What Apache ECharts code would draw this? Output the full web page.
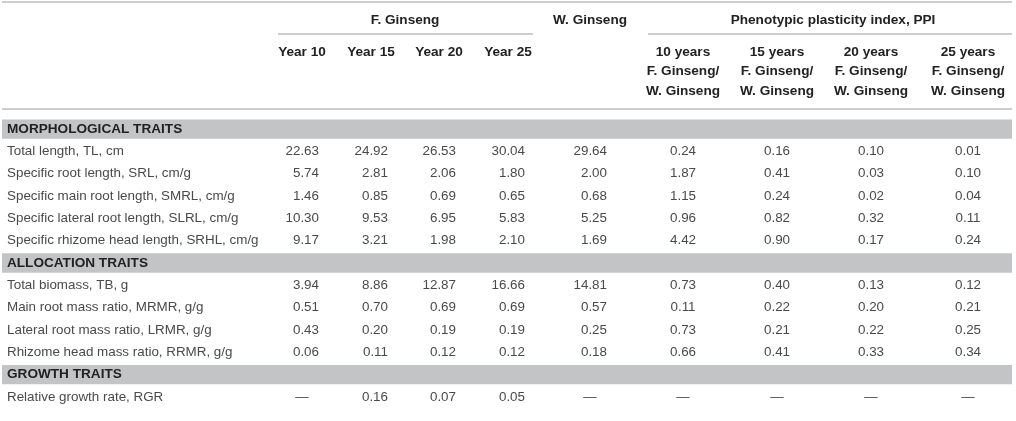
<!DOCTYPE html>
<html>
<head>
<meta charset="utf-8">
<script src="https://cdn.jsdelivr.net/npm/echarts@6/dist/echarts.min.js"></script>
<style>
  html, body { margin: 0; padding: 0; background: #fff; }
  #main { width: 1016px; height: 421px; }
</style>
</head>
<body>
<div id="main"></div>
<script>
// table contents
var sectionNames = ['MORPHOLOGICAL TRAITS', 'ALLOCATION TRAITS', 'GROWTH TRAITS'];
var sectionSizes = [5, 4, 1];
var traits = [
  'Total length, TL, cm',
  'Specific root length, SRL, cm/g',
  'Specific main root length, SMRL, cm/g',
  'Specific lateral root length, SLRL, cm/g',
  'Specific rhizome head length, SRHL, cm/g',
  'Total biomass, TB, g',
  'Main root mass ratio, MRMR, g/g',
  'Lateral root mass ratio, LRMR, g/g',
  'Rhizome head mass ratio, RRMR, g/g',
  'Relative growth rate, RGR'
];
var fYear10 = [22.63, 5.74, 1.46, 10.30, 9.17, 3.94, 0.51, 0.43, 0.06, null];
var fYear15 = [24.92, 2.81, 0.85, 9.53, 3.21, 8.86, 0.70, 0.20, 0.11, 0.16];
var fYear20 = [26.53, 2.06, 0.69, 6.95, 1.98, 12.87, 0.69, 0.19, 0.12, 0.07];
var fYear25 = [30.04, 1.80, 0.65, 5.83, 2.10, 16.66, 0.69, 0.19, 0.12, 0.05];
var wGinseng = [29.64, 2.00, 0.68, 5.25, 1.69, 14.81, 0.57, 0.25, 0.18, null];
var ppi10 = [0.24, 1.87, 1.15, 0.96, 4.42, 0.73, 0.11, 0.73, 0.66, null];
var ppi15 = [0.16, 0.41, 0.24, 0.82, 0.90, 0.40, 0.22, 0.21, 0.41, null];
var ppi20 = [0.10, 0.03, 0.02, 0.32, 0.17, 0.13, 0.20, 0.22, 0.33, null];
var ppi25 = [0.01, 0.10, 0.04, 0.11, 0.24, 0.12, 0.21, 0.25, 0.34, null];
var yearLabels = ['Year 10', 'Year 15', 'Year 20', 'Year 25'];
var ppiLabels = [
  ['10 years', 'F. Ginseng/', 'W. Ginseng'],
  ['15 years', 'F. Ginseng/', 'W. Ginseng'],
  ['20 years', 'F. Ginseng/', 'W. Ginseng'],
  ['25 years', 'F. Ginseng/', 'W. Ginseng']
];

// layout: column centres on a pixel-wide value axis
var columns = [fYear10, fYear15, fYear20, fYear25, wGinseng, ppi10, ppi15, ppi20, ppi25];
var colCenter = [302, 371, 439, 508, 590, 683, 777, 871, 968];
var colAlign = ['right', 'right', 'right', 'right', 'right', 'center', 'center', 'center', 'center'];
var FONT = '"Liberation Sans", Arial, sans-serif';
var BOLD = 'bold 13.6px ' + FONT;
var BODY = '13.4px ' + FONT;

// rows of the y category axis: section bands + trait rows
var rowNames = [];
var bandData = [];
var labelData = [];
var cellData = [];
var t = 0;
sectionNames.forEach(function (name, s) {
  bandData.push([0, rowNames.length, name]);
  rowNames.push(name);
  for (var k = 0; k < sectionSizes[s]; k++, t++) {
    var r = rowNames.length;
    rowNames.push(traits[t]);
    labelData.push([7, r, traits[t]]);
    columns.forEach(function (col, c) {
      var v = col[t];
      cellData.push([colCenter[c], r, v == null ? '—' : v.toFixed(2), v == null ? 'center' : colAlign[c]]);
    });
  }
});

var chartDom = document.getElementById('main');
var myChart = echarts.init(chartDom);

function lineEl(x1, x2, y) {
  return { type: 'line', shape: { x1: x1, y1: y, x2: x2, y2: y }, style: { stroke: '#bdbdbd', lineWidth: 1.5 }, silent: true };
}
function headText(x, y, text) {
  return { type: 'text', x: x, y: y, style: { text: text, font: BOLD, fill: '#222', align: 'center', verticalAlign: 'middle' } };
}

var header = [
  lineEl(2, 1012, 2),
  headText(405, 20, 'F. Ginseng'),
  lineEl(278, 533, 34),
  headText(590, 20, 'W. Ginseng'),
  headText(833, 20, 'Phenotypic plasticity index, PPI'),
  lineEl(648, 1012, 34),
  lineEl(2, 1012, 109)
];
yearLabels.forEach(function (s, i) { header.push(headText(colCenter[i], 52, s)); });
ppiLabels.forEach(function (lines, i) {
  lines.forEach(function (s, j) { header.push(headText(colCenter[5 + i], 52 + j * 19.5, s)); });
});

var option = {
  animation: false,
  grid: { left: 0, right: 0, top: 118, bottom: 13 },
  xAxis: { type: 'value', min: 0, max: 1016, show: false },
  yAxis: { type: 'category', data: rowNames, inverse: true, show: false },
  graphic: header,
  series: [
    {
      type: 'custom',
      data: bandData,
      renderItem: function (params, api) {
        var p = api.coord([0, api.value(1)]);
        var h = api.size([0, 1])[1];
        return {
          type: 'group',
          children: [
            { type: 'rect', shape: { x: 2, y: p[1] - h / 2 + 1.5, width: 1010, height: h - 3 }, style: { fill: '#c3c4c6' } },
            { type: 'text', x: 7, y: p[1], style: { text: bandData[params.dataIndex][2], font: BOLD, fill: '#222', verticalAlign: 'middle' } }
          ]
        };
      }
    },
    {
      type: 'custom',
      data: labelData,
      renderItem: function (params, api) {
        var p = api.coord([api.value(0), api.value(1)]);
        return { type: 'text', x: p[0], y: p[1], style: { text: labelData[params.dataIndex][2], font: BODY, fill: '#4a4a4a', verticalAlign: 'middle' } };
      }
    },
    {
      type: 'custom',
      data: cellData,
      renderItem: function (params, api) {
        var d = cellData[params.dataIndex];
        var p = api.coord([api.value(0), api.value(1)]);
        var x = d[3] === 'right' ? p[0] + 17 : p[0];
        return { type: 'text', x: x, y: p[1], style: { text: d[2], font: BODY, fill: '#4a4a4a', align: d[3], verticalAlign: 'middle' } };
      }
    }
  ]
};

option && myChart.setOption(option);
window.addEventListener('resize', function () {
  myChart.resize();
});
</script>
</body>
</html>
